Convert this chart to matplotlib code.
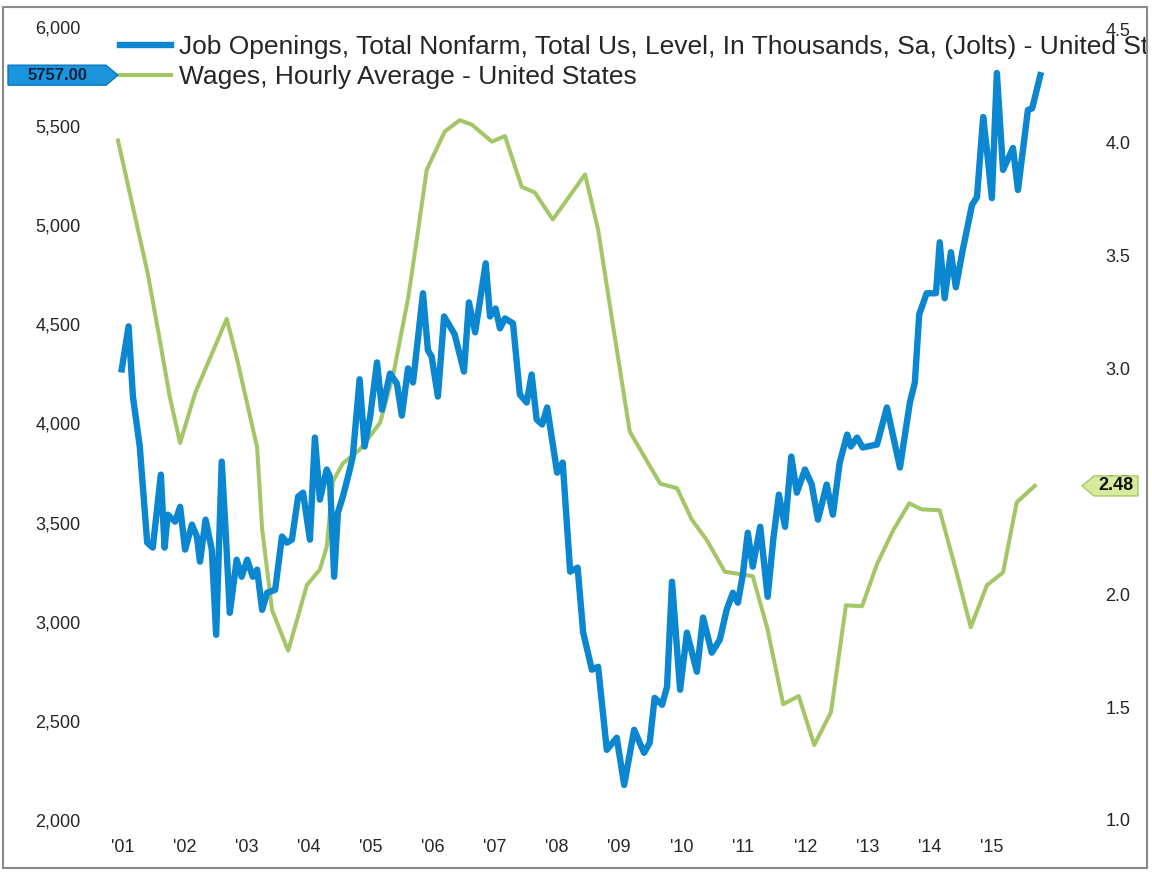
import matplotlib
matplotlib.use("Agg")
import matplotlib.pyplot as plt
from matplotlib.patches import Polygon, Rectangle
from matplotlib.lines import Line2D

plt.rcParams['font.family'] = ['Liberation Sans', 'DejaVu Sans']

# ---------------- data ----------------
blue_label = "Job Openings, Total Nonfarm, Total Us, Level, In Thousands, Sa, (Jolts) - United States"
green_label = "Wages, Hourly Average - United States"

blue_years = [2000.99, 2001.10, 2001.17, 2001.28, 2001.40, 2001.49, 2001.62, 2001.68, 2001.73, 2001.85,
              2001.93, 2002.01, 2002.12, 2002.20, 2002.25, 2002.34, 2002.44, 2002.51, 2002.60, 2002.67,
              2002.73, 2002.84, 2002.92, 2003.01, 2003.10, 2003.17, 2003.25, 2003.33, 2003.46, 2003.57,
              2003.65, 2003.73, 2003.83, 2003.91, 2004.02, 2004.10, 2004.18, 2004.29, 2004.34, 2004.41,
              2004.47, 2004.55, 2004.65, 2004.71, 2004.82, 2004.90, 2004.99, 2005.10, 2005.18, 2005.31,
              2005.42, 2005.50, 2005.60, 2005.68, 2005.84, 2005.92, 2005.98, 2006.08, 2006.18, 2006.35,
              2006.50, 2006.58, 2006.68, 2006.85, 2006.92, 2007.01, 2007.08, 2007.16, 2007.29, 2007.40,
              2007.51, 2007.59, 2007.67, 2007.76, 2007.84, 2008.00, 2008.09, 2008.21, 2008.33, 2008.42,
              2008.56, 2008.66, 2008.80, 2008.96, 2009.08, 2009.24, 2009.40, 2009.49, 2009.57, 2009.69,
              2009.77, 2009.85, 2009.98, 2010.09, 2010.25, 2010.35, 2010.49, 2010.62, 2010.73, 2010.83,
              2010.91, 2010.99, 2011.07, 2011.15, 2011.27, 2011.39, 2011.48, 2011.57, 2011.67, 2011.77,
              2011.86, 2011.99, 2012.10, 2012.20, 2012.34, 2012.44, 2012.55, 2012.67, 2012.73, 2012.83,
              2012.92, 2013.15, 2013.31, 2013.52, 2013.68, 2013.76, 2013.83, 2013.95, 2014.10, 2014.16,
              2014.24, 2014.34, 2014.42, 2014.53, 2014.68, 2014.76, 2014.86, 2014.92, 2015.00, 2015.08,
              2015.18, 2015.34, 2015.42, 2015.58, 2015.65, 2015.78]
blue_values = [4273, 4490, 4136, 3884, 3399, 3374, 3742, 3374, 3540, 3505,
               3580, 3364, 3490, 3430, 3303, 3515, 3364, 2934, 3808, 3414,
               3045, 3313, 3227, 3313, 3227, 3263, 3060, 3146, 3161, 3430,
               3399, 3414, 3631, 3651, 3414, 3929, 3616, 3768, 3732, 3227,
               3550, 3631, 3752, 3833, 4223, 3884, 4035, 4308, 4070, 4252,
               4202, 4040, 4278, 4207, 4657, 4369, 4338, 4136, 4540, 4450,
               4262, 4611, 4460, 4808, 4540, 4580, 4480, 4530, 4505, 4146,
               4106, 4247, 4020, 3995, 4081, 3752, 3803, 3253, 3273, 2945,
               2758, 2773, 2354, 2415, 2177, 2455, 2339, 2389, 2616, 2581,
               2672, 3202, 2657, 2945, 2748, 3021, 2844, 2910, 3061, 3146,
               3096, 3237, 3449, 3278, 3479, 3126, 3414, 3641, 3479, 3833,
               3651, 3768, 3692, 3515, 3692, 3540, 3803, 3944, 3884, 3929,
               3879, 3894, 4081, 3778, 4106, 4207, 4550, 4657, 4657, 4914,
               4632, 4864, 4687, 4874, 5102, 5142, 5546, 5380, 5137, 5768,
               5279, 5390, 5178, 5581, 5590, 5757]

green_years = [2000.93, 2001.41, 2001.60, 2001.76, 2001.93, 2002.17, 2002.68, 2002.84, 2003.17, 2003.25,
               2003.41, 2003.67, 2003.97, 2004.18, 2004.29, 2004.39, 2004.55, 2004.82, 2005.15, 2005.36,
               2005.60, 2005.74, 2005.90, 2006.19, 2006.43, 2006.63, 2006.95, 2007.16, 2007.43, 2007.64,
               2007.93, 2008.45, 2008.66, 2008.90, 2009.17, 2009.66, 2009.93, 2010.17, 2010.41, 2010.70,
               2011.15, 2011.38, 2011.64, 2011.89, 2012.14, 2012.41, 2012.65, 2012.91, 2013.15, 2013.41,
               2013.67, 2013.87, 2014.16, 2014.44, 2014.66, 2014.92, 2015.18, 2015.40, 2015.69]
green_values = [4.01, 3.42, 3.13, 2.88, 2.67, 2.89, 3.22, 3.05, 2.65, 2.29,
                1.93, 1.75, 2.04, 2.11, 2.21, 2.50, 2.58, 2.64, 2.76, 2.97,
                3.31, 3.57, 3.88, 4.05, 4.10, 4.08, 4.005, 4.03, 3.805, 3.78,
                3.66, 3.86, 3.615, 3.19, 2.72, 2.49, 2.47, 2.33, 2.24, 2.10,
                2.08, 1.854, 1.513, 1.549, 1.332, 1.478, 1.951, 1.947, 2.133, 2.283,
                2.403, 2.376, 2.372, 2.088, 1.854, 2.04, 2.097, 2.407, 2.48]

x_tick_years = list(range(2001, 2016))
x_tick_labels = ["'%02d" % (y % 100) for y in x_tick_years]
left_ticks = [2000, 2500, 3000, 3500, 4000, 4500, 5000, 5500, 6000]
right_ticks = [1.0, 1.5, 2.0, 2.5, 3.0, 3.5, 4.0, 4.5]

# ---------------- styling ----------------
BLUE = '#0a87d0'
GREEN = '#a3c767'
TXT = '#262626'
W, H = 1152, 874

fig = plt.figure(figsize=(W / 100, H / 100), dpi=100)
fig.patch.set_facecolor('white')

ax = fig.add_axes([100 / W, (H - 820) / H, 990 / W, 793 / H])
ax2 = ax.twinx()
ax.set_zorder(ax2.get_zorder() + 1)
ax.patch.set_visible(False)

ax.set_xlim(2000.64, 2016.58)
ax.set_ylim(2000, 6000)
ax2.set_ylim(1.013, 4.513)

ln_g, = ax2.plot(green_years, green_values, color=GREEN, lw=2.9, solid_joinstyle='round')
ln_b, = ax.plot(blue_years, blue_values, color=BLUE, lw=4.6, solid_joinstyle='round')

for a in (ax, ax2):
    for s in a.spines.values():
        s.set_visible(False)
    a.tick_params(length=0)

ax.set_xticks(x_tick_years)
ax.set_xticklabels(x_tick_labels)
ax.set_yticks(left_ticks)
ax.set_yticklabels(["{:,}".format(v) for v in left_ticks])
ax2.set_yticks(right_ticks)
ax2.set_yticklabels(["%.1f" % v for v in right_ticks])
ax.tick_params(axis='x', labelsize=13, labelcolor=TXT, pad=14)
ax.tick_params(axis='y', labelsize=13, labelcolor=TXT, pad=14)
ax2.tick_params(axis='y', labelsize=13, labelcolor=TXT, pad=11)

# legend
h_b = Line2D([], [], color=BLUE, lw=4.6)
h_g = Line2D([], [], color=GREEN, lw=2.9)
leg = ax.legend([h_b, h_g], [blue_label, green_label], loc='upper left',
                bbox_to_anchor=(120 / W, (H - 35) / H), bbox_transform=fig.transFigure,
                frameon=False, fontsize=19, handlelength=1.95, handletextpad=0.3,
                labelspacing=0.24, borderpad=0, borderaxespad=0)
for t in leg.get_texts():
    t.set_color(TXT)

# value tags
fig.canvas.draw()
yb = ax.transData.transform((blue_years[-1], blue_values[-1]))[1]
yg = ax2.transData.transform((green_years[-1], green_values[-1]))[1]

def fpoly(pts, **kw):
    return Polygon([(x / W, y / H) for x, y in pts], closed=True,
                   transform=fig.transFigure, **kw)

fig.add_artist(fpoly([(8, yb - 10), (106, yb - 10), (118, yb), (106, yb + 10), (8, yb + 10)],
                     facecolor='#1a95dc', edgecolor='#0a78c0', lw=1, zorder=20))
fig.text(57 / W, yb / H, "%.2f" % blue_values[-1], ha='center', va='center',
         fontsize=12, fontweight='bold', color='#0c1f3c', zorder=21)

fig.add_artist(fpoly([(1082, yg), (1094, yg + 10), (1138, yg + 10), (1138, yg - 10), (1094, yg - 10)],
                     facecolor='#d7eb9f', edgecolor='#a9c966', lw=1, zorder=20))
fig.text(1116 / W, yg / H, "%.2f" % green_values[-1], ha='center', va='center',
         fontsize=13, fontweight='bold', color='#111111', zorder=21)

# outer frame (clips legend text)
fig.add_artist(Rectangle((1148 / W, 0), 4 / W, 1, transform=fig.transFigure,
                         facecolor='white', edgecolor='none', zorder=30))
fig.add_artist(Rectangle((3 / W, (H - 868) / H), 1144 / W, 861 / H, transform=fig.transFigure,
                         facecolor='none', edgecolor='#8a8a8a', lw=1.5, zorder=31))

fig.savefig("out.png", dpi=100)
